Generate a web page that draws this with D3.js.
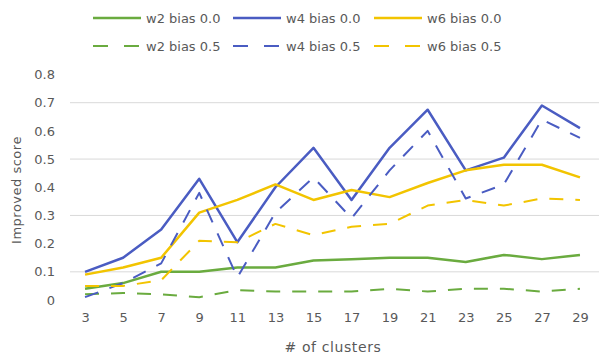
<!DOCTYPE html>
<html>
<head>
<meta charset="utf-8">
<script src="https://cdn.jsdelivr.net/npm/d3@7"></script>
<style>
  html, body { margin: 0; padding: 0; background: #fff; }
  svg { display: block; font-family: "DejaVu Sans", "Liberation Sans", sans-serif; }
</style>
</head>
<body>
<svg id="chart" width="600" height="355"></svg>
<script>
// Number of clusters on the x axis
const clusters = ["3","5","7","9","11","13","15","17","19","21","23","25","27","29"];

// Improved score per configuration
const w2Bias00 = [0.04,0.06,0.10,0.10,0.115,0.115,0.14,0.145,0.15,0.15,0.135,0.16,0.145,0.16];
const w4Bias00 = [0.10,0.15,0.25,0.43,0.205,0.40,0.54,0.355,0.54,0.675,0.46,0.505,0.69,0.61];
const w6Bias00 = [0.09,0.115,0.15,0.31,0.355,0.41,0.355,0.39,0.365,0.415,0.46,0.48,0.48,0.435];
const w2Bias05 = [0.02,0.025,0.02,0.01,0.035,0.03,0.03,0.03,0.04,0.03,0.04,0.04,0.03,0.04];
const w4Bias05 = [0.01,0.06,0.13,0.38,0.08,0.31,0.435,0.29,0.46,0.60,0.36,0.41,0.64,0.575];
const w6Bias05 = [0.05,0.05,0.07,0.21,0.205,0.27,0.23,0.26,0.27,0.335,0.355,0.335,0.36,0.355];

const yTicks = [0,0.1,0.2,0.3,0.4,0.5,0.6,0.7,0.8];
const gridTicks = [0.1,0.3,0.5,0.7];

const green = "#6aab3f", blue = "#4a5cc2", yellow = "#f2c400";
const textColor = "#595959";

const series = [
  { name: "w2 bias 0.0", values: w2Bias00, color: green,  dashed: false },
  { name: "w4 bias 0.0", values: w4Bias00, color: blue,   dashed: false },
  { name: "w6 bias 0.0", values: w6Bias00, color: yellow, dashed: false },
  { name: "w2 bias 0.5", values: w2Bias05, color: green,  dashed: true },
  { name: "w4 bias 0.5", values: w4Bias05, color: blue,   dashed: true },
  { name: "w6 bias 0.5", values: w6Bias05, color: yellow, dashed: true }
];

const svg = d3.select("#chart");
const plotLeft = 66, plotRight = 599, plotTop = 74.5, plotBottom = 300;

const x = d3.scalePoint().domain(clusters).range([plotLeft, plotRight]).padding(0.5);
const y = d3.scaleLinear().domain([0, 0.8]).range([plotBottom, plotTop]);

// horizontal gridlines
svg.append("g").selectAll("line").data(gridTicks).join("line")
  .attr("x1", plotLeft + 4).attr("x2", plotRight)
  .attr("y1", d => y(d)).attr("y2", d => y(d))
  .attr("stroke", "#d9d9d9").attr("stroke-width", 1);

// y axis labels
const yAxis = d3.axisLeft(y).tickValues(yTicks).tickSize(0).tickPadding(0)
  .tickFormat(d => d === 0 ? "0" : d3.format(".1f")(d));
svg.append("g").attr("transform", `translate(55,0)`).call(yAxis)
  .call(g => g.select(".domain").remove())
  .call(g => g.selectAll("text").attr("fill", textColor).style("font-size", "13px")
    .style("font-family", "'DejaVu Sans', sans-serif"));

// x axis labels
const xAxis = d3.axisBottom(x).tickSize(0).tickPadding(0);
svg.append("g").attr("transform", `translate(0,313)`).call(xAxis)
  .call(g => g.select(".domain").remove())
  .call(g => g.selectAll("text").attr("fill", textColor).style("font-size", "13px")
    .style("font-family", "'DejaVu Sans', sans-serif"));

// axis titles
svg.append("text").attr("x", 333).attr("y", 352)
  .attr("text-anchor", "middle").attr("fill", textColor)
  .style("font-size", "14px").style("letter-spacing", "0.6px")
  .text("# of clusters");
svg.append("text").attr("transform", `translate(21,190) rotate(-90)`)
  .attr("text-anchor", "middle").attr("fill", textColor)
  .style("font-size", "13px").style("letter-spacing", "0.5px")
  .text("Improved score");

// lines
const line = d3.line().x((d, i) => x(clusters[i])).y(d => y(d));
svg.append("g").selectAll("path").data(series).join("path")
  .attr("d", d => line(d.values))
  .attr("fill", "none")
  .attr("stroke", d => d.color)
  .attr("stroke-width", d => d.dashed ? 2 : 2.5)
  .attr("stroke-dasharray", d => d.dashed ? "14,12" : null)
  .attr("stroke-linejoin", "round");

// legend: two rows of three entries
const legendCols = [93, 233, 374];
const legendRows = [18, 46];
const legend = svg.append("g").selectAll("g").data(series).join("g")
  .attr("transform", (d, i) => `translate(${legendCols[i % 3]},${legendRows[Math.floor(i / 3)]})`);
legend.append("line")
  .attr("x1", 0).attr("x2", 48).attr("y1", 0).attr("y2", 0)
  .attr("stroke", d => d.color)
  .attr("stroke-width", d => d.dashed ? 2 : 2.5)
  .attr("stroke-dasharray", d => d.dashed ? "15,16" : null);
legend.append("text").attr("x", 53).attr("dy", "0.35em")
  .attr("fill", textColor).style("font-size", "13px")
  .text(d => d.name);
</script>
</body>
</html>
